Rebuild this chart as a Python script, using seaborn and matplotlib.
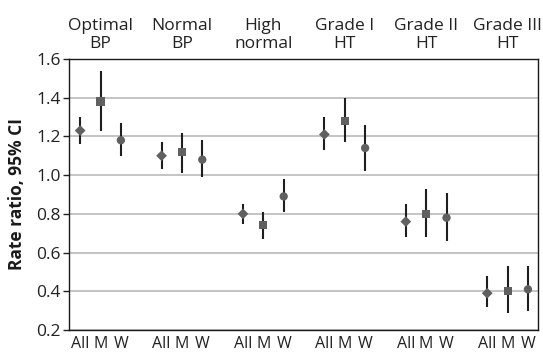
import matplotlib
matplotlib.use("Agg")
import matplotlib.pyplot as plt
import seaborn as sns
import pandas as pd
import numpy as np

groups = ["Optimal\nBP", "Normal\nBP", "High\nnormal", "Grade I\nHT", "Grade II\nHT", "Grade III\nHT"]
subgroups = ["All", "M", "W"]
est = [1.23, 1.38, 1.18,
       1.10, 1.12, 1.08,
       0.80, 0.74, 0.89,
       1.21, 1.28, 1.14,
       0.76, 0.80, 0.78,
       0.39, 0.40, 0.41]
lower = [1.16, 1.23, 1.10,
         1.03, 1.01, 0.99,
         0.75, 0.67, 0.81,
         1.13, 1.17, 1.02,
         0.68, 0.68, 0.66,
         0.32, 0.29, 0.30]
upper = [1.30, 1.54, 1.27,
         1.17, 1.22, 1.18,
         0.85, 0.81, 0.98,
         1.30, 1.40, 1.26,
         0.85, 0.93, 0.91,
         0.48, 0.53, 0.53]
yticks = [0.2, 0.4, 0.6, 0.8, 1.0, 1.2, 1.4, 1.6]

rows = []
for gi, g in enumerate(groups):
    for si, s in enumerate(subgroups):
        k = gi * 3 + si
        rows.append(dict(group=g, sub=s, x=gi * 4 + si, est=est[k], lo=lower[k], hi=upper[k]))
df = pd.DataFrame(rows)

sns.set_theme(style="white")
plt.rcParams['font.family'] = ['Open Sans', 'DejaVu Sans']

fig = plt.figure(figsize=(5.43, 3.55), dpi=100)
ax = fig.add_axes([0.127, 0.0704, 0.864, 0.7636])

ax.vlines(df["x"], df["lo"], df["hi"], color="#1e1e1e", linewidth=1.5, zorder=2)
sns.scatterplot(data=df, x="x", y="est", style="sub", size="sub",
                markers={"All": "D", "M": "s", "W": "o"},
                sizes={"All": 30, "M": 34, "W": 36},
                color="#606060", edgecolor="#606060",
                linewidth=0, legend=False, ax=ax, zorder=3)
ax.set_xlim(-0.55, 22.5)
ax.set_ylim(0.2, 1.6)
ax.set_yticks(yticks)
ax.set_yticklabels([f"{v:.1f}" for v in yticks])
ax.yaxis.grid(True, color="#c4c4c4", linewidth=1.4)
ax.set_axisbelow(True)
ax.set_xticks(df["x"])
ax.set_xticklabels(df["sub"])
ax.tick_params(axis="x", length=0, pad=4, labelsize=11.5, colors="#222222")
ax.tick_params(axis="y", length=4, width=1, direction="out", left=True,
               labelsize=12.5, colors="#222222", pad=2)
ax.set_xlabel("")
ax.set_ylabel("Rate ratio, 95% CI", fontsize=12.5, fontweight="bold", color="#1a1a1a", labelpad=7)
for sp in ax.spines.values():
    sp.set_color("#1a1a1a")
    sp.set_linewidth(1.0)

for gi, g in enumerate(groups):
    ax.text(gi * 4 + 1, 1.635, g, ha="center", va="bottom", fontsize=12.5,
            color="#222222", linespacing=1.15, transform=ax.transData, clip_on=False)

fig.savefig("out.png", dpi=100)
